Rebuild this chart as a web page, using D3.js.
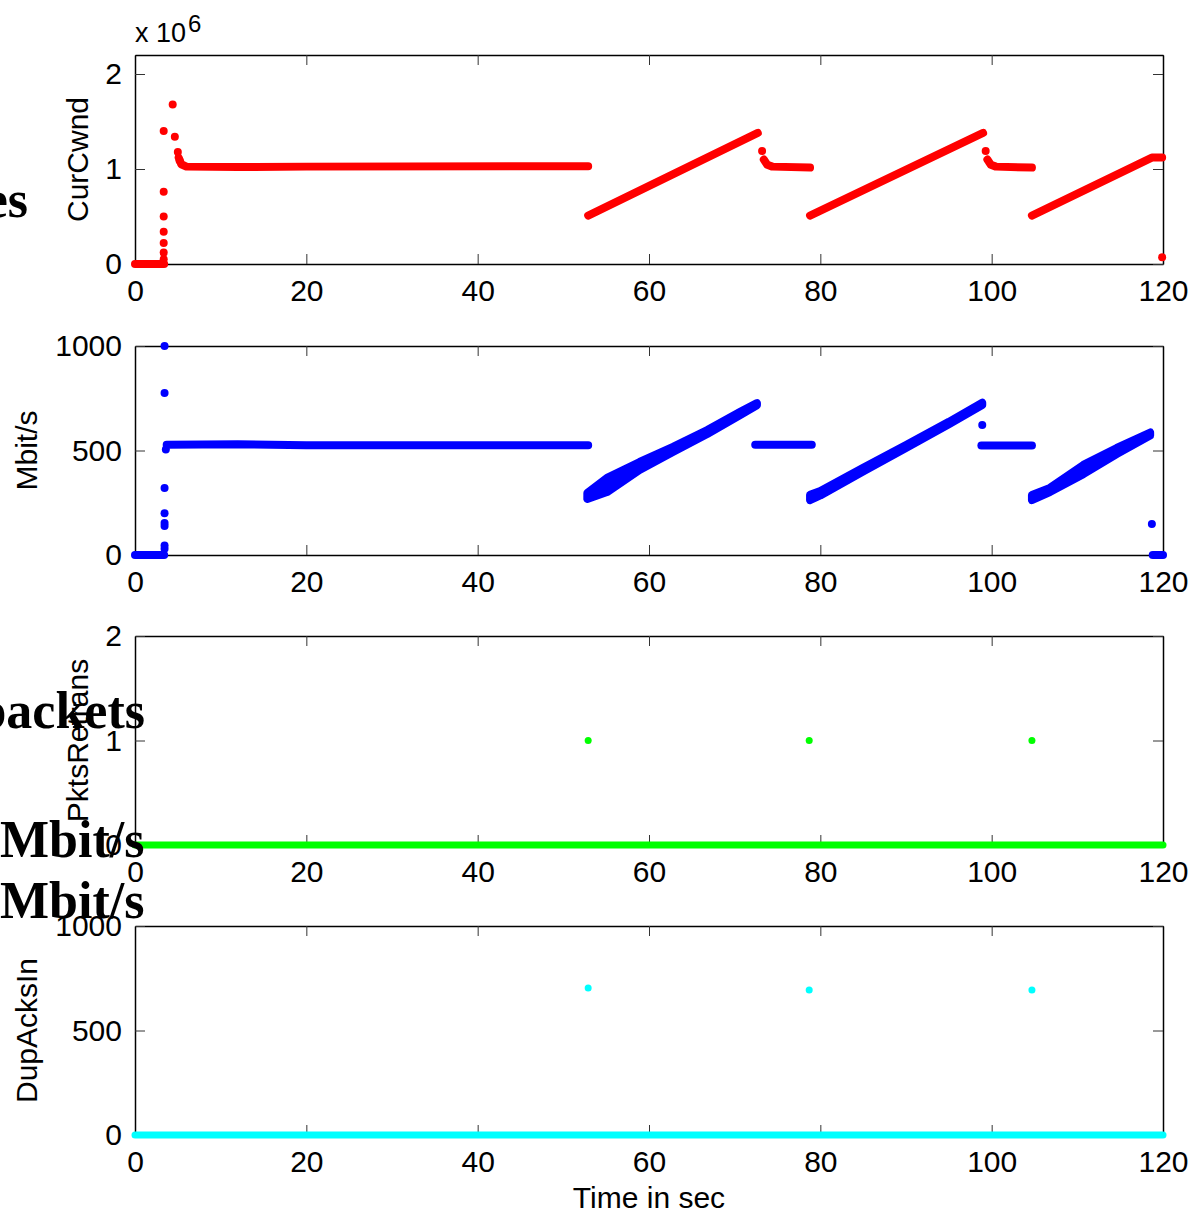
<!DOCTYPE html>
<html>
<head>
<meta charset="utf-8">
<script src="https://cdn.jsdelivr.net/npm/d3@7"></script>
<style>
body { margin: 0; background: #fff; }
text { font-family: "Liberation Sans", Arial, sans-serif; fill: #000; }
.stray { font-family: "Liberation Serif", "Times New Roman", serif; font-weight: bold; font-size: 52px; }
</style>
</head>
<body>
<svg id="fig" width="1202" height="1215"></svg>
<script>

// time axis (seconds)
var timeTicks = [0, 20, 40, 60, 80, 100, 120];

// CurCwnd, in units of 1e6
var cwndTicks = [0, 1, 2];
var cwndRuns = [
    [[0, 0], [3.4, 0]],
    [[5.1, 1.12], [5.4, 1.05], [6, 1.025], [12, 1.02], [20, 1.025], [52.9, 1.03]],
    [[52.9, 0.51], [72.7, 1.38]],
    [[73.4, 1.1], [73.8, 1.045], [74.4, 1.025], [78.8, 1.015]],
    [[78.8, 0.51], [99.0, 1.38]],
    [[99.5, 1.1], [99.9, 1.045], [100.5, 1.025], [104.7, 1.015]],
    [[104.7, 0.51], [118.7, 1.12], [119.9, 1.12]]
];
var cwndDots = [[3.35, 0.05], [3.35, 0.12], [3.35, 0.22], [3.35, 0.34], [3.35, 0.5],
    [3.35, 0.76], [3.35, 1.4], [4.4, 1.68], [4.65, 1.34], [5.0, 1.18], [5.2, 1.09],
    [73.2, 1.19], [99.3, 1.19], [119.9, 0.07]];

// throughput, Mbit/s
var rateTicks = [0, 500, 1000];
var rateRuns = [
    [[0, 0], [3.4, 0]],
    [[3.7, 527], [12, 530], [20, 525], [52.9, 525]],
    [[72.4, 527], [79.0, 527]],
    [[98.8, 524], [104.7, 524]],
    [[118.8, 0], [120, 0]]
];
// [time, low, high]
var rateBands = [
    [[52.8, 268, 297], [55.1, 301, 369], [58.9, 407, 445], [62.8, 493, 517],
     [66.8, 579, 598], [70.6, 668, 684], [72.6, 716, 727]],
    [[78.8, 263, 288], [80, 285, 306], [85, 400, 418], [90, 512, 526],
     [95, 625, 637], [98.9, 717, 729]],
    [[104.7, 263, 287], [106.8, 301, 321], [110.7, 387, 431], [114.6, 483, 512],
     [118.5, 572, 586]]
];
var rateDots = [[3.45, 1000], [3.45, 775], [3.45, 320], [3.45, 200], [3.45, 153],
    [3.45, 139], [3.45, 45], [3.45, 30], [3.6, 505], [98.9, 622], [118.7, 148]];

// PktsRetrans
var retransTicks = [0, 1, 2];
var retransRuns = [[[0, 0], [120, 0]]];
var retransDots = [[52.9, 1], [78.7, 1], [104.7, 1]];

// DupAcksIn
var dupTicks = [0, 500, 1000];
var dupRuns = [[[0, 0], [120, 0]]];
var dupDots = [[52.9, 703], [78.7, 694], [104.7, 694]];

var panels = [
    {label: "CurCwnd", ticks: cwndTicks, domain: [0, 2.2], runs: cwndRuns, bands: [], dots: cwndDots,
     color: "#ff0000", r: 4, bottom: 264, labelX: 88},
    {label: "Mbit/s", ticks: rateTicks, domain: [0, 1000], runs: rateRuns, bands: rateBands, dots: rateDots,
     color: "#0000ff", r: 4, bottom: 555, labelX: 37},
    {label: "PktsRetrans", ticks: retransTicks, domain: [0, 2], runs: retransRuns, bands: [], dots: retransDots,
     color: "#00ff00", r: 3.5, bottom: 845, labelX: 88},
    {label: "DupAcksIn", ticks: dupTicks, domain: [0, 1000], runs: dupRuns, bands: [], dots: dupDots,
     color: "#00ffff", r: 3.5, bottom: 1135, labelX: 37}
];

var svg = d3.select("#fig");
var left = 135, right = 1163, plotH = 209;
var x = d3.scaleLinear().domain([0, 120]).range([left, right]);
var plain = d3.format("d");

function styleAxis(g) {
    g.select(".domain").attr("stroke", "#000").attr("stroke-width", 1.5);
    g.selectAll(".tick line").attr("stroke", "#333").attr("stroke-width", 1);
    g.selectAll(".tick text").style("font-size", "30px").attr("fill", "#000");
}

panels.forEach(function(p) {
    var top = p.bottom - plotH;
    var y = d3.scaleLinear().domain(p.domain).range([p.bottom, top]);
    var g = svg.append("g");

    g.append("g").attr("transform", "translate(0," + p.bottom + ")")
        .call(d3.axisBottom(x).tickValues(timeTicks).tickFormat(plain)
            .tickSizeInner(-10).tickSizeOuter(0).tickPadding(16))
        .call(styleAxis);
    g.append("g").attr("transform", "translate(0," + top + ")")
        .call(d3.axisTop(x).tickValues(timeTicks).tickSizeInner(-10).tickSizeOuter(0).tickFormat(""))
        .call(styleAxis);
    g.append("g").attr("transform", "translate(" + left + ",0)")
        .call(d3.axisLeft(y).tickValues(p.ticks).tickFormat(plain)
            .tickSizeInner(-10).tickSizeOuter(0).tickPadding(13))
        .call(styleAxis);
    g.append("g").attr("transform", "translate(" + right + ",0)")
        .call(d3.axisRight(y).tickValues(p.ticks).tickSizeInner(-10).tickSizeOuter(0).tickFormat(""))
        .call(styleAxis);
    g.selectAll("text").attr("font-family", null);

    g.append("text")
        .attr("transform", "translate(" + p.labelX + "," + (p.bottom + top) / 2 + ") rotate(-90)")
        .attr("text-anchor", "middle")
        .style("font-size", "30px")
        .text(p.label);

    var line = d3.line().x(function(d) { return x(d[0]); }).y(function(d) { return y(d[1]); });
    var area = d3.area().x(function(d) { return x(d[0]); })
        .y0(function(d) { return y(d[1]); }).y1(function(d) { return y(d[2]); });

    g.selectAll(".band").data(p.bands).enter().append("path")
        .attr("d", area)
        .attr("fill", p.color)
        .attr("stroke", p.color)
        .attr("stroke-width", p.r * 2)
        .attr("stroke-linejoin", "round");

    g.selectAll(".run").data(p.runs).enter().append("path")
        .attr("d", line)
        .attr("fill", "none")
        .attr("stroke", p.color)
        .attr("stroke-width", p.r * 2)
        .attr("stroke-linecap", "round")
        .attr("stroke-linejoin", "round");

    g.selectAll(".dot").data(p.dots).enter().append("circle")
        .attr("cx", function(d) { return x(d[0]); })
        .attr("cy", function(d) { return y(d[1]); })
        .attr("r", p.r)
        .attr("fill", p.color);
});

// exponent label of the top panel
var expo = svg.append("text").attr("x", 135).attr("y", 42).style("font-size", "27px");
expo.append("tspan").text("x 10");
expo.append("tspan").attr("dy", -10).attr("dx", 2).style("font-size", "24px").text("6");

svg.append("text")
    .attr("x", (left + right) / 2)
    .attr("y", 1208)
    .attr("text-anchor", "middle")
    .style("font-size", "30px")
    .text("Time in sec");

// leftover labels from the source figure, partly off the left edge
svg.append("text").attr("class", "stray").attr("x", 28).attr("y", 217).attr("text-anchor", "end").text("es");
svg.append("text").attr("class", "stray").attr("x", 145).attr("y", 728).attr("text-anchor", "end").text("packets");
svg.append("text").attr("class", "stray").attr("x", 0).attr("y", 857).text("Mbit/s");
svg.append("text").attr("class", "stray").attr("x", 0).attr("y", 918).text("Mbit/s");

</script>
</body>
</html>
